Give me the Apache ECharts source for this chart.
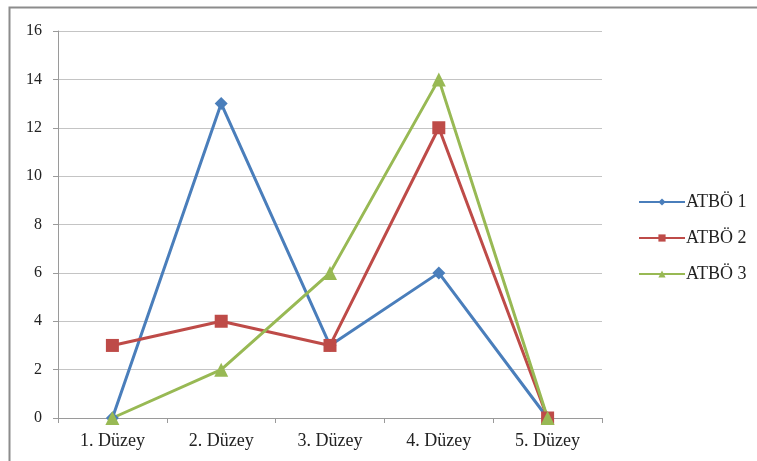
<!DOCTYPE html>
<html>
<head>
<meta charset="utf-8">
<script src="https://cdn.jsdelivr.net/npm/echarts@6/dist/echarts.min.js"></script>
<style>
  html, body { margin: 0; padding: 0; background: #fff; }
  #chart { width: 757px; height: 461px; }
</style>
</head>
<body>
<div id="chart"></div>
<script>
const categories = ['1. Düzey', '2. Düzey', '3. Düzey', '4. Düzey', '5. Düzey'];
const atbo1 = [0, 13, 3, 6, 0];
const atbo2 = [3, 4, 3, 12, 0];
const atbo3 = [0, 2, 6, 14, 0];
const seriesNames = ['ATBÖ 1', 'ATBÖ 2', 'ATBÖ 3'];

const chart = echarts.init(document.getElementById('chart'));
const font = 'Liberation Serif';

const mkSeries = (name, data, color, symbol, size) => ({
  name: name,
  type: 'line',
  data: data,
  symbol: symbol,
  symbolSize: size,
  lineStyle: { color: color, width: 3 },
  itemStyle: { color: color },
  z: 3
});

chart.setOption({
  backgroundColor: '#fff',
  animation: false,
  textStyle: { fontFamily: font },
  graphic: [{
    type: 'rect',
    shape: { x: 9.5, y: 7.5, width: 800, height: 500 },
    style: { fill: 'none', stroke: '#8c8c8c', lineWidth: 2 },
    silent: true
  }],
  grid: { left: 58, right: 155, top: 31, bottom: 43 },
  legend: {
    orient: 'vertical',
    left: 633,
    top: 188,
    itemGap: 18,
    itemWidth: 46,
    itemHeight: 9,
    textStyle: { fontFamily: font, fontSize: 18, color: '#222', padding: [0, 0, 0, -4] },
    data: seriesNames
  },
  xAxis: {
    type: 'category',
    data: categories,
    boundaryGap: true,
    axisLine: { lineStyle: { color: '#9a9a9a', width: 1 } },
    axisTick: { show: true, length: 5, lineStyle: { color: '#9a9a9a' } },
    axisLabel: { fontFamily: font, fontSize: 18, color: '#222', margin: 14 }
  },
  yAxis: {
    type: 'value',
    min: 0,
    max: 16,
    interval: 2,
    axisLine: { show: true, lineStyle: { color: '#9a9a9a' } },
    axisTick: { show: true, length: 5, lineStyle: { color: '#9a9a9a' } },
    axisLabel: { fontFamily: font, fontSize: 16, color: '#222', margin: 16 },
    splitLine: { lineStyle: { color: '#c4c4c4', width: 1 } }
  },
  series: [
    mkSeries(seriesNames[0], atbo1, '#4A7EBB', 'diamond', 13),
    mkSeries(seriesNames[1], atbo2, '#BE4B48', 'rect', 13),
    mkSeries(seriesNames[2], atbo3, '#98B954', 'triangle', 14)
  ]
});
</script>
</body>
</html>
